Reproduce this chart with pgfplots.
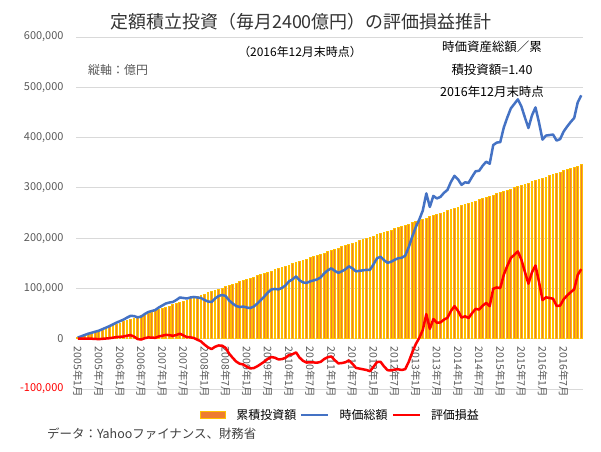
\documentclass[border=0pt]{standalone}
\usepackage{fontspec}
\setmainfont{Noto Sans CJK JP}
\usepackage{pgfplots}
\usepackage{pgfplotstable}
\pgfplotsset{compat=1.18}
\definecolor{gridgray}{HTML}{D9D9D9}
\definecolor{ticktext}{HTML}{595959}
\definecolor{barorange}{HTML}{ED7D31}
\definecolor{bargold}{HTML}{FFC000}
\definecolor{valblue}{HTML}{4472C4}
\definecolor{pnlred}{HTML}{FF0000}

% i = month index from 2005/1; bar = cumulative investment; blue = market value; red = gain/loss
\pgfplotstableread{
i bar blue red
0 2400 2400 0
1 4800 4800 0
2 7200 7500 300
3 9600 10000 400
4 12000 12000 0
5 14400 14000 -400
6 16800 16000 -800
7 19200 19000 -200
8 21600 22000 400
9 24000 25000 1000
10 26400 28500 2100
11 28800 32000 3200
12 31200 35000 3800
13 33600 38000 4400
14 36000 42000 6000
15 38400 45500 7100
16 40800 45000 4200
17 43200 42500 -700
18 45600 44000 -1600
19 48000 49000 1000
20 50400 53000 2600
21 52800 55000 2200
22 55200 57000 1800
23 57600 62000 4400
24 60000 66000 6000
25 62400 70000 7600
26 64800 72000 7200
27 67200 73000 5800
28 69600 77000 7400
29 72000 82000 10000
30 74400 81000 6600
31 76800 80000 3200
32 79200 82000 2800
33 81600 83000 1400
34 84000 82000 -2000
35 86400 81000 -5400
36 88800 77000 -11800
37 91200 74000 -17200
38 93600 73000 -20600
39 96000 80000 -16000
40 98400 85000 -13400
41 100800 87000 -13800
42 103200 85000 -18200
43 105600 76000 -29600
44 108000 70000 -38000
45 110400 65000 -45400
46 112800 63000 -49800
47 115200 64000 -51200
48 117600 62000 -55600
49 120000 61000 -59000
50 122400 64000 -58400
51 124800 70000 -54800
52 127200 77000 -50200
53 129600 84000 -45600
54 132000 92000 -40000
55 134400 98000 -36400
56 136800 99000 -37800
57 139200 98000 -41200
58 141600 101000 -40600
59 144000 106000 -38000
60 146400 114000 -32400
61 148800 118000 -30800
62 151200 124000 -27200
63 153600 116000 -37600
64 156000 112000 -44000
65 158400 111000 -47400
66 160800 114000 -46800
67 163200 116000 -47200
68 165600 118000 -47600
69 168000 122000 -46000
70 170400 130000 -40400
71 172800 136000 -36800
72 175200 140000 -35200
73 177600 135000 -42600
74 180000 131000 -49000
75 182400 134000 -48400
76 184800 138000 -46800
77 187200 144000 -43200
78 189600 140000 -49600
79 192000 134000 -58000
80 194400 135000 -59400
81 196800 136000 -60800
82 199200 137000 -62200
83 201600 137000 -64600
84 204000 148000 -56000
85 206400 160000 -46400
86 208800 163000 -45800
87 211200 156000 -55200
88 213600 151000 -62600
89 216000 153000 -63000
90 218400 157000 -61400
91 220800 160000 -60800
92 223200 161000 -62200
93 225600 165000 -60600
94 228000 182000 -46000
95 230400 203000 -27400
96 232800 222000 -10800
97 235200 237000 1800
98 237600 255000 17400
99 240000 289000 49000
100 242400 262000 19600
101 244800 284000 39200
102 247200 279000 31800
103 249600 282000 32400
104 252000 290000 38000
105 254400 296000 41600
106 256800 312000 55200
107 259200 324000 64800
108 261600 317000 55400
109 264000 306000 42000
110 266400 311000 44600
111 268800 310000 41200
112 271200 322000 50800
113 273600 333000 59400
114 276000 334000 58000
115 278400 344000 65600
116 280800 352000 71200
117 283200 348000 64800
118 285600 385000 99400
119 288000 390000 102000
120 290400 391000 100600
121 292800 420000 127200
122 295200 440000 144800
123 297600 458000 160400
124 300000 467000 167000
125 302400 476000 173600
126 304800 462000 157200
127 307200 440000 132800
128 309600 419000 109400
129 312000 444000 132000
130 314400 460000 145600
131 316800 430000 113200
132 319200 396000 76800
133 321600 404000 82400
134 324000 405000 81000
135 326400 406000 79600
136 328800 394000 65200
137 331200 397000 65800
138 333600 412000 78400
139 336000 422000 86000
140 338400 431000 92600
141 340800 439000 98200
142 343200 470000 126800
143 345600 484000 138400
}\investdata

\begin{document}
\begin{tikzpicture}
\useasboundingbox (0,0) rectangle (601bp,-452bp);
\begin{axis}[
    at={(76bp,-389bp)}, anchor=south west,
    scale only axis,
    width=507bp, height=352bp,
    xmin=-0.5, xmax=143.5,
    ymin=-100000, ymax=600000,
    scaled y ticks=false,
    axis lines*=left,
    axis x line*=middle,
    hide obscured x ticks=false,
    hide obscured y ticks=false,
    x axis line style={-, draw=gridgray, line width=0.8bp},
    y axis line style={draw=none},
    major tick length=0pt,
    ymajorgrids,
    grid style={gridgray, line width=0.8bp},
    ytick={-100000,0,100000,200000,300000,400000,500000,600000},
    yticklabels={\textcolor{pnlred}{-100,000},0,{100,000},{200,000},{300,000},{400,000},{500,000},{600,000}},
    yticklabel style={font=\fontsize{11}{13}\selectfont, text=ticktext, xshift=-9bp},
    xtick={0,6,...,138},
    xticklabels={2005年1月,2005年7月,2006年1月,2006年7月,2007年1月,2007年7月,2008年1月,2008年7月,2009年1月,2009年7月,2010年1月,2010年7月,2011年1月,2011年7月,2012年1月,2012年7月,2013年1月,2013年7月,2014年1月,2014年7月,2015年1月,2015年7月,2016年1月,2016年7月},
    xticklabel style={font=\fontsize{10.5}{12}\selectfont, text=ticktext, rotate=-90, anchor=west, inner xsep=8bp},
    legend columns=3,
    legend style={at={(0.522,-0.0739)}, anchor=center, draw=none, fill=none,
        font=\fontsize{12}{14}\selectfont,
        /tikz/every even column/.append style={column sep=2bp},
        /tikz/every odd column/.append style={column sep=8bp}},
]
\addplot[ybar, bar width=1.8bp, fill=barorange, draw=bargold, line width=1bp,
    legend image code/.code={\draw[fill=barorange, draw=bargold, line width=1bp] (0bp,-3.5bp) rectangle (25bp,3.5bp);}]
    table[x=i, y=bar] {\investdata};
\addlegendentry{累積投資額}
\addplot[valblue, line width=2.5bp, line join=round, mark=none,
    legend image code/.code={\draw[valblue, line width=2.5bp] (0bp,0bp) -- (27bp,0bp);}]
    table[x=i, y=blue] {\investdata};
\addlegendentry{時価総額}
\addplot[pnlred, line width=2.5bp, line join=round, mark=none,
    legend image code/.code={\draw[pnlred, line width=2.5bp] (0bp,0bp) -- (27bp,0bp);}]
    table[x=i, y=red] {\investdata};
\addlegendentry{評価損益}
\end{axis}
\node[font=\fontsize{18}{21}\selectfont, text=black!80] at (301bp,-22bp) {定額積立投資（毎月2400億円）の評価損益推計};
\node[font=\fontsize{12}{14}\selectfont] at (300bp,-52bp) {（2016年12月末時点）};
\node[font=\fontsize{12}{14}\selectfont, text=ticktext, anchor=west, inner sep=0pt] at (88bp,-70bp) {縦軸：億円};
\node[font=\fontsize{12.5}{15}\selectfont] at (492bp,-47bp) {時価資産総額／累};
\node[font=\fontsize{12.5}{15}\selectfont] at (492bp,-70bp) {積投資額=1.40};
\node[font=\fontsize{12.5}{15}\selectfont] at (492bp,-92bp) {2016年12月末時点};
\node[font=\fontsize{12.5}{15}\selectfont, text=black!75, anchor=west, inner sep=0pt] at (47bp,-434bp) {データ：Yahooファイナンス、財務省};
\end{tikzpicture}
\end{document}
